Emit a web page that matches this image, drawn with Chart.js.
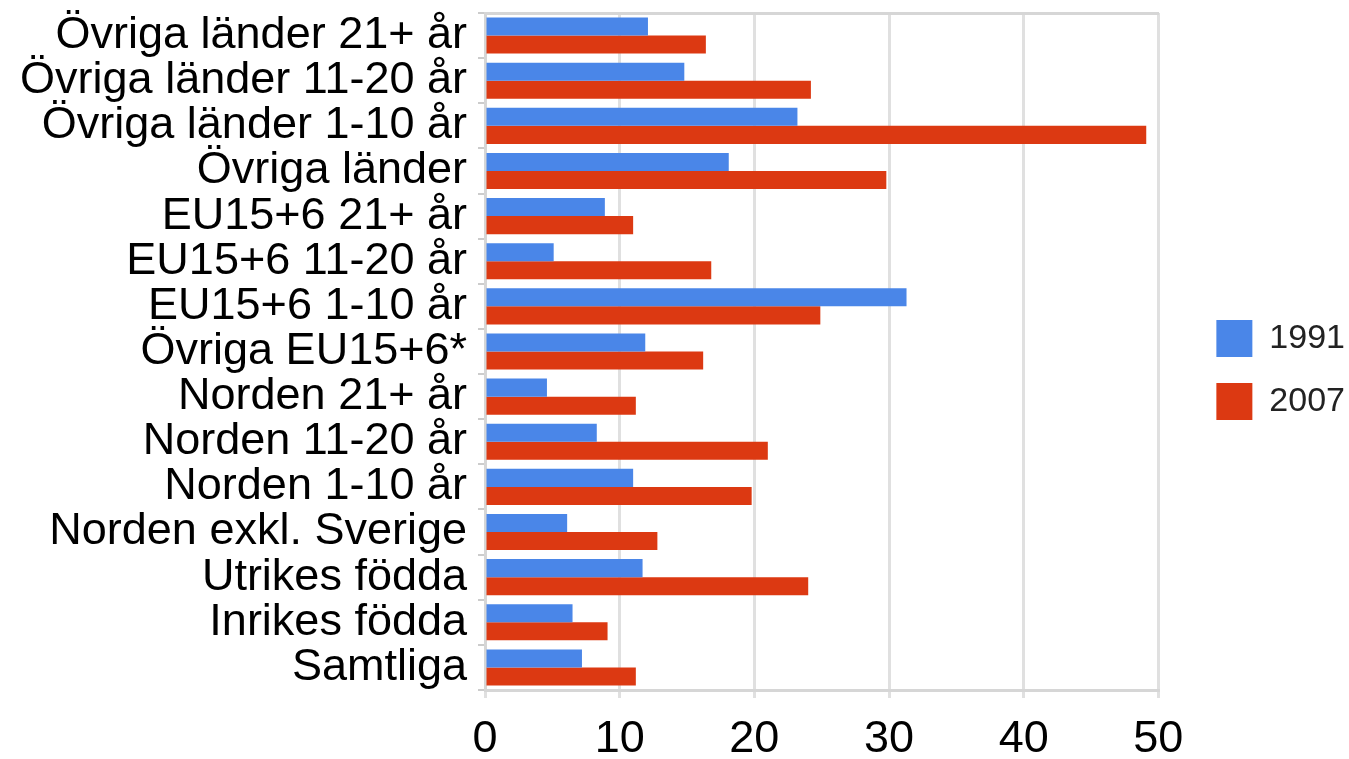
<!DOCTYPE html>
<html>
<head>
<meta charset="utf-8">
<script src="https://cdn.jsdelivr.net/npm/chart.js@4"></script>
<style>
  html, body { margin: 0; padding: 0; background: #fff; }
  #wrap { width: 1349px; height: 759px; }
</style>
</head>
<body>
<div id="wrap"><canvas id="canvas"></canvas></div>
<script>
const categories = [
  'Övriga länder 21+ år',
  'Övriga länder 11-20 år',
  'Övriga länder 1-10 år',
  'Övriga länder',
  'EU15+6 21+ år',
  'EU15+6 11-20 år',
  'EU15+6 1-10 år',
  'Övriga EU15+6*',
  'Norden 21+ år',
  'Norden 11-20 år',
  'Norden 1-10 år',
  'Norden exkl. Sverige',
  'Utrikes födda',
  'Inrikes födda',
  'Samtliga'
]
const values1991 = [12.1, 14.8, 23.2, 18.1, 8.9, 5.1, 31.3, 11.9, 4.6, 8.3, 11.0, 6.1, 11.7, 6.5, 7.2]
const values2007 = [16.4, 24.2, 49.1, 29.8, 11.0, 16.8, 24.9, 16.2, 11.2, 21.0, 19.8, 12.8, 24.0, 9.1, 11.2]
const seriesNames = ['1991', '2007']
const xTicks = [0, 10, 20, 30, 40, 50]

const gridGrey = '#e0e0e0'
const frameGrey = '#d6d6d6'

const data = {
  labels: categories,
  datasets: [
    {
      label: seriesNames[0],
      backgroundColor: '#4a86e8',
      data: values1991,
      categoryPercentage: 0.8,
      barPercentage: 1.0,
    },
    {
      label: seriesNames[1],
      backgroundColor: '#dc3912',
      data: values2007,
      categoryPercentage: 0.8,
      barPercentage: 1.0,
    },
  ],
}

// nudge the legend away from the plot (gap in the original is wider than the label padding)
const legendNudge = {
  id: 'legendNudge',
  afterLayout(chart) {
    const lg = chart.legend
    lg.left += 32
    lg.right += 32
    lg.top -= 16
    lg.bottom -= 16
  },
}

const config = {
  type: 'bar',
  data: data,
  plugins: [legendNudge],
  options: {
    indexAxis: 'y',
    responsive: true,
    maintainAspectRatio: false,
    animation: false,
    layout: { padding: { top: 13, right: 26, bottom: 0, left: 0 } },
    plugins: {
      tooltip: { enabled: false },
      legend: {
        position: 'right',
        labels: {
          boxWidth: 36,
          boxHeight: 37,
          padding: 26,
          color: '#222',
          font: { family: 'Liberation Sans', size: 34 },
        },
      },
    },
    scales: {
      x: {
        min: 0,
        max: 50,
        afterBuildTicks: (axis) => { axis.ticks = xTicks.map(v => ({ value: v })) },
        afterFit: (axis) => { axis.height = 69; axis.paddingLeft = 0; axis.paddingRight = 0 },
        grid: { color: gridGrey, lineWidth: 3, tickLength: 8, tickColor: gridGrey },
        border: { color: frameGrey, width: 3 },
        ticks: {
          color: '#000',
          padding: 15,
          maxRotation: 0,
          font: { family: 'Liberation Sans', size: 45 },
        },
      },
      xTop: {
        axis: 'x',
        position: 'top',
        min: 0,
        max: 50,
        ticks: { display: false },
        grid: { display: false },
        border: { color: frameGrey, width: 3 },
        afterFit: (axis) => { axis.height = 0; axis.paddingLeft = 0; axis.paddingRight = 0 },
      },
      y: {
        afterFit: (axis) => { axis.width = 485; axis.paddingTop = 0; axis.paddingBottom = 0 },
        grid: { drawOnChartArea: false, color: '#cccccc', lineWidth: 2, tickLength: 7 },
        border: { color: frameGrey, width: 3 },
        ticks: {
          color: '#000',
          padding: 11,
          autoSkip: false,
          font: { family: 'Liberation Sans', size: 45 },
        },
      },
    },
  },
}

const canvas = document.getElementById('canvas')
const chart = new Chart(canvas, config)
</script>
</body>
</html>
